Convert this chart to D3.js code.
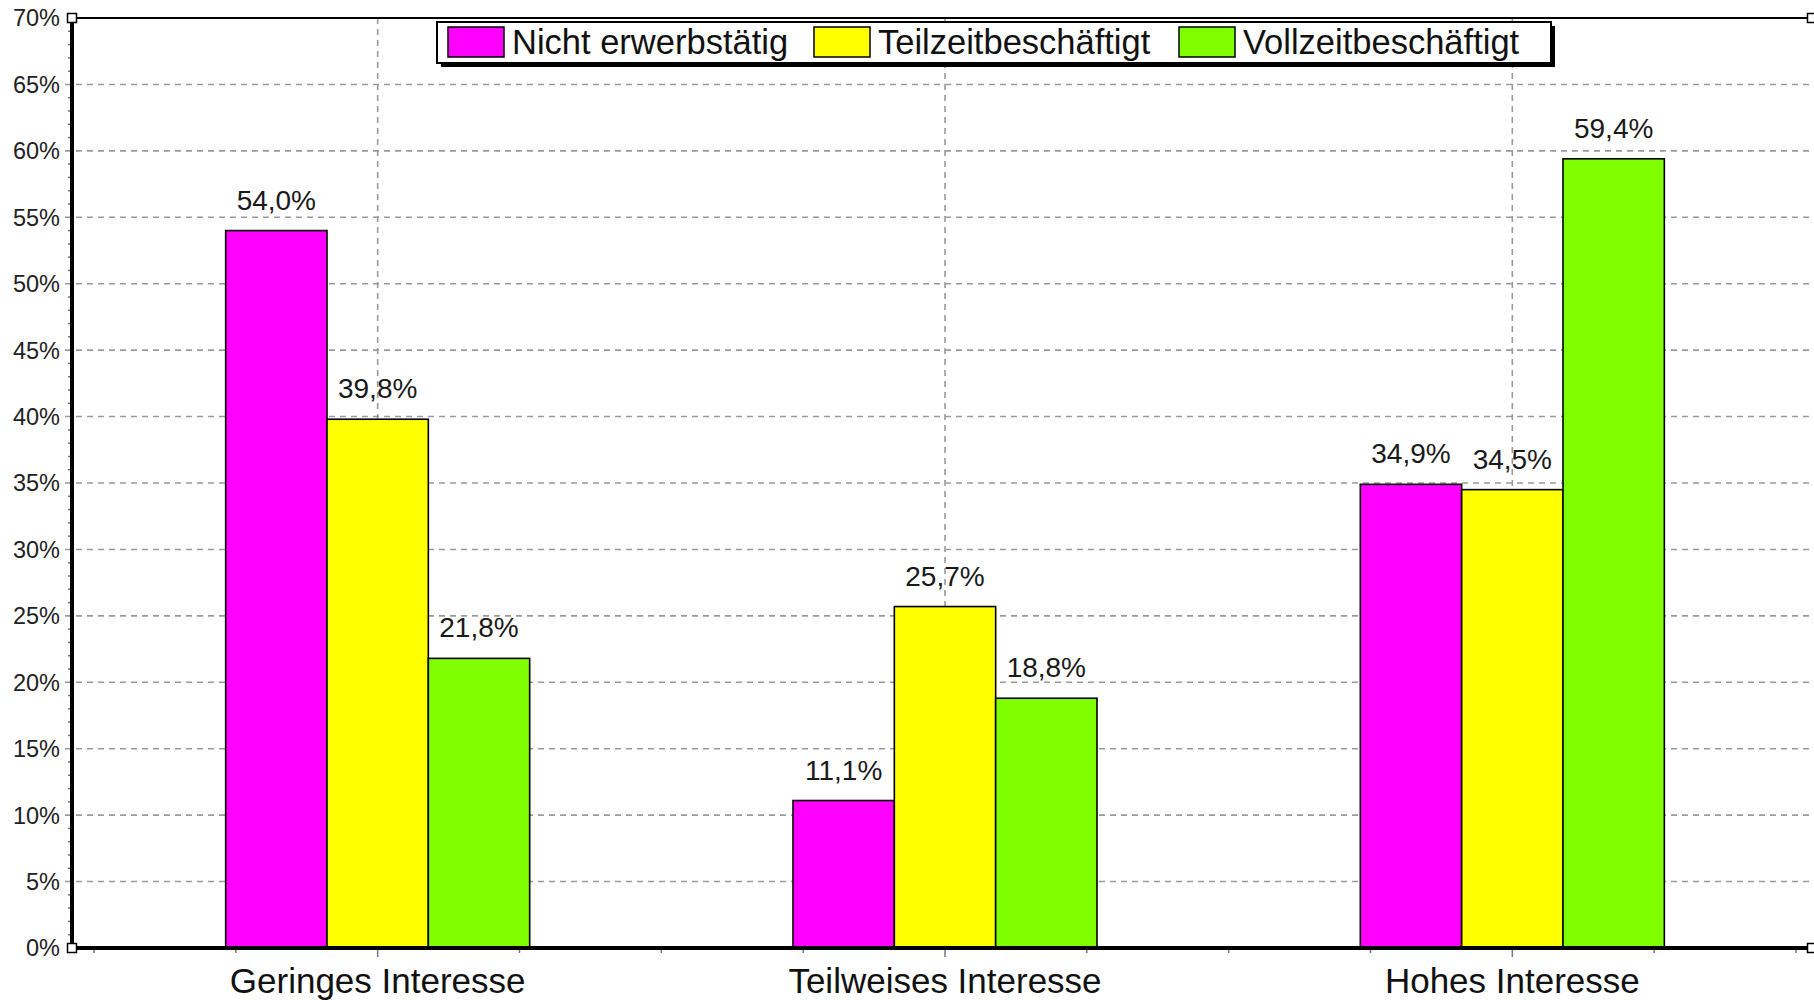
<!DOCTYPE html>
<html>
<head>
<meta charset="utf-8">
<script src="https://cdn.jsdelivr.net/npm/d3@7"></script>
<style>
  body { margin: 0; background: #fff; }
  text { font-family: "Liberation Sans", Arial, sans-serif; }
</style>
</head>
<body>
<div id="chart"></div>
<script>
// Data
const categories = ["Geringes Interesse", "Teilweises Interesse", "Hohes Interesse"];
const seriesNames = ["Nicht erwerbstätig", "Teilzeitbeschäftigt", "Vollzeitbeschäftigt"];
const seriesColors = ["#ff00ff", "#ffff00", "#80ff00"];
const values = [
    [54.0, 11.1, 34.9],   // Nicht erwerbstätig
    [39.8, 25.7, 34.5],   // Teilzeitbeschäftigt
    [21.8, 18.8, 59.4]    // Vollzeitbeschäftigt
];
const yTicks = [0, 5, 10, 15, 20, 25, 30, 35, 40, 45, 50, 55, 60, 65, 70];

const width = 1814, height = 1000;
const plot = {left: 72, right: 1812, top: 18, bottom: 948};

const svg = d3.select("#chart")
  .append("svg")
    .attr("width", width)
    .attr("height", height);

// Scales
const y = d3.scaleLinear()
    .domain([0, 70])
    .range([plot.bottom, plot.top]);

const x0 = d3.scaleBand()
    .domain(categories)
    .range([94, 1796])
    .padding(0);

const groupW = 304;
const x1 = d3.scaleBand()
    .domain(seriesNames)
    .range([(x0.bandwidth() - groupW) / 2, (x0.bandwidth() + groupW) / 2])
    .padding(0);

const fmt = v => v.toFixed(1).replace(".", ",") + "%";

// Horizontal grid (dashed)
svg.append("g")
  .selectAll("line")
  .data(yTicks.filter(t => t > 0 && t < 70))
  .enter().append("line")
    .attr("x1", plot.left - 7)
    .attr("x2", plot.right)
    .attr("y1", d => y(d))
    .attr("y2", d => y(d))
    .attr("stroke", "#9a9a9a")
    .attr("stroke-width", 1.6)
    .attr("stroke-dasharray", "6,5");

// Vertical grid at category centers
svg.append("g")
  .selectAll("line")
  .data(categories)
  .enter().append("line")
    .attr("x1", d => x0(d) + x0.bandwidth() / 2)
    .attr("x2", d => x0(d) + x0.bandwidth() / 2)
    .attr("y1", plot.top)
    .attr("y2", plot.bottom)
    .attr("stroke", "#9a9a9a")
    .attr("stroke-width", 1.6)
    .attr("stroke-dasharray", "6,5");

// Bars
const flat = [];
seriesNames.forEach((s, si) => {
    categories.forEach((c, ci) => {
        flat.push({series: s, si: si, cat: c, value: values[si][ci]});
    });
});

svg.append("g")
  .selectAll("rect")
  .data(flat)
  .enter().append("rect")
    .attr("x", d => x0(d.cat) + x1(d.series))
    .attr("y", d => y(d.value))
    .attr("width", x1.bandwidth())
    .attr("height", d => y(0) - y(d.value))
    .attr("fill", d => seriesColors[d.si])
    .attr("stroke", "#000")
    .attr("stroke-width", 1.6);

// Value labels
svg.append("g")
  .selectAll("text")
  .data(flat)
  .enter().append("text")
    .attr("x", d => x0(d.cat) + x1(d.series) + x1.bandwidth() / 2)
    .attr("y", d => y(d.value) - 21)
    .attr("text-anchor", "middle")
    .attr("font-size", 28)
    .attr("fill", "#1a1a1a")
    .text(d => fmt(d.value));

// Y minor ticks (every 1%)
svg.append("g")
  .selectAll("line")
  .data(d3.range(1, 70).filter(v => v % 5 !== 0))
  .enter().append("line")
    .attr("x1", plot.left - 4)
    .attr("x2", plot.left)
    .attr("y1", d => y(d))
    .attr("y2", d => y(d))
    .attr("stroke", "#777")
    .attr("stroke-width", 1.5);

// Y tick labels
svg.append("g")
  .selectAll("text")
  .data(yTicks)
  .enter().append("text")
    .attr("x", 60)
    .attr("y", d => y(d))
    .attr("dy", "0.36em")
    .attr("text-anchor", "end")
    .attr("font-size", 23.5)
    .attr("fill", "#222")
    .text(d => d + "%");

// X ticks (quarter band)
const xTickData = d3.range(0, 13).map(k => ({pos: 94 + k * x0.bandwidth() / 4, major: k % 4 === 2}));
svg.append("g")
  .selectAll("line")
  .data(xTickData)
  .enter().append("line")
    .attr("x1", d => d.pos)
    .attr("x2", d => d.pos)
    .attr("y1", plot.bottom)
    .attr("y2", d => plot.bottom + (d.major ? 9 : 5))
    .attr("stroke", "#777")
    .attr("stroke-width", 1.5);

// Category labels
svg.append("g")
  .selectAll("text")
  .data(categories)
  .enter().append("text")
    .attr("x", d => x0(d) + x0.bandwidth() / 2)
    .attr("y", 993)
    .attr("text-anchor", "middle")
    .attr("font-size", 35)
    .attr("fill", "#111")
    .text(d => d);

// Axis lines
svg.append("line")
    .attr("x1", plot.left).attr("x2", plot.right)
    .attr("y1", plot.top).attr("y2", plot.top)
    .attr("stroke", "#000").attr("stroke-width", 2);
svg.append("line")
    .attr("x1", plot.left).attr("x2", plot.left)
    .attr("y1", plot.top).attr("y2", plot.bottom)
    .attr("stroke", "#000").attr("stroke-width", 4);
svg.append("line")
    .attr("x1", plot.left).attr("x2", plot.right)
    .attr("y1", plot.bottom).attr("y2", plot.bottom)
    .attr("stroke", "#000").attr("stroke-width", 4);

// Corner markers
const corners = [[plot.left, plot.top], [plot.left, plot.bottom], [plot.right, plot.top], [plot.right, plot.bottom]];
svg.append("g")
  .selectAll("rect")
  .data(corners)
  .enter().append("rect")
    .attr("x", d => d[0] - 4.5)
    .attr("y", d => d[1] - 4.5)
    .attr("width", 9)
    .attr("height", 9)
    .attr("fill", "#fff")
    .attr("stroke", "#000")
    .attr("stroke-width", 1.5);

// Legend
const legend = svg.append("g").attr("transform", "translate(437,22)");
const legW = 1114, legH = 41;
legend.append("rect")
    .attr("x", 4).attr("y", 4)
    .attr("width", legW).attr("height", legH)
    .attr("fill", "#000");
legend.append("rect")
    .attr("width", legW).attr("height", legH)
    .attr("fill", "#fff")
    .attr("stroke", "#000")
    .attr("stroke-width", 2);

const legX = [11, 377, 742];
const items = legend.selectAll(".item")
  .data(seriesNames)
  .enter().append("g")
    .attr("transform", (d, i) => `translate(${legX[i]},5)`);
items.append("rect")
    .attr("width", 56).attr("height", 30)
    .attr("fill", (d, i) => seriesColors[i])
    .attr("stroke", "#000")
    .attr("stroke-width", 1.5);
items.append("text")
    .attr("x", 64)
    .attr("y", 27)
    .attr("font-size", 34.5)
    .attr("fill", "#111")
    .text(d => d);
</script>
</body>
</html>
